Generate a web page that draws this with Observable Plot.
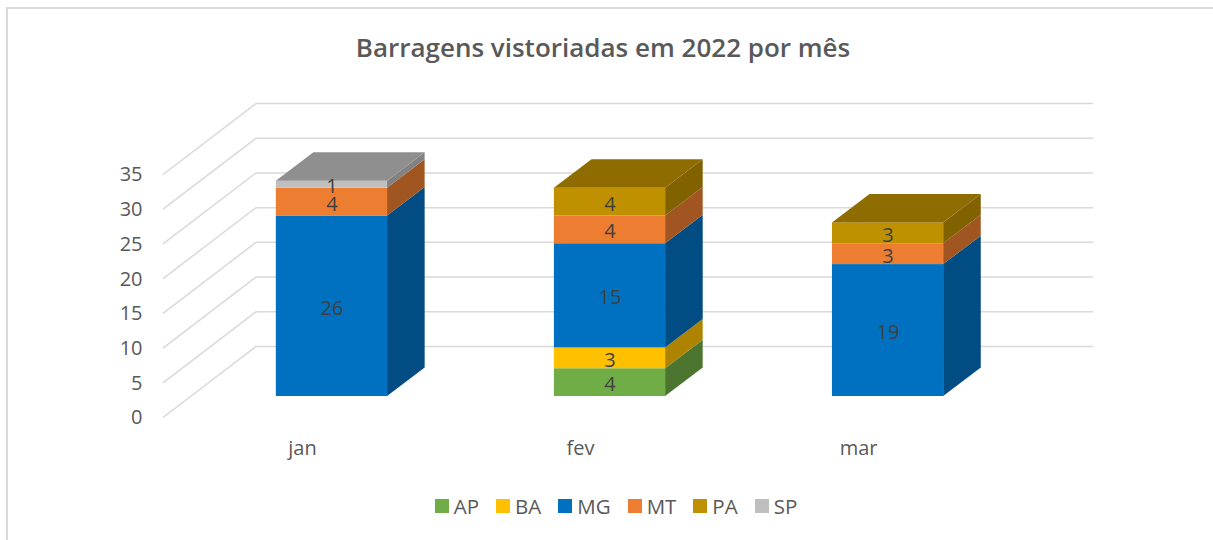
<!DOCTYPE html>
<html>
<head>
<meta charset="utf-8">
<script src="https://cdn.jsdelivr.net/npm/d3@7"></script>
<script src="https://cdn.jsdelivr.net/npm/@observablehq/plot@0.6"></script>
<style>
  html, body { margin: 0; padding: 0; background: #fff; }
  #wrap { position: relative; width: 1213px; height: 540px; overflow: hidden; font-family: "Open Sans", sans-serif; }
  #frame { position: absolute; left: 6px; top: 7px; width: 1300px; height: 700px; border: 2px solid #d9d9d9; box-sizing: border-box; }
  #title { position: absolute; left: 0; top: 27px; width: 1206px; text-align: center; font-size: 26px; font-weight: 600; color: #595959; line-height: 40px; }
  #legend { position: absolute; left: 0; top: 493px; width: 1232px; display: flex; justify-content: center; font-size: 20.5px; color: #595959; line-height: 26px; }
  .item { display: flex; align-items: center; margin: 0 8.5px; }
  .sw { width: 14px; height: 14px; margin-right: 5px; }
  #chart { position: absolute; left: 0; top: 0; }
</style>
</head>
<body>
<div id="wrap">
  <div id="frame"></div>
  <div id="chart"></div>
  <div id="title">Barragens vistoriadas em 2022 por mês</div>
  <div id="legend"></div>
</div>
<script>
// ---- data ----
const months = ["jan", "fev", "mar"];
const states = ["AP", "BA", "MG", "MT", "PA", "SP"];
const AP = [0, 4, 0];
const BA = [0, 3, 0];
const MG = [26, 15, 19];
const MT = [4, 4, 3];
const PA = [0, 4, 3];
const SP = [1, 0, 0];
const yTicks = [0, 5, 10, 15, 20, 25, 30, 35];
const colors = ["#70AD47", "#FFC000", "#0070C0", "#ED7D31", "#BF9000", "#BFBFBF"];

// ---- build stacked table ----
const series = {AP, BA, MG, MT, PA, SP};
const rows = [];
months.forEach((m, i) => {
  let acc = 0;
  states.forEach(s => {
    const v = series[s][i];
    if (v > 0) {
      rows.push({month: m, state: s, value: v, y1: acc, y2: acc + v, mid: acc + v / 2});
      acc += v;
    }
  });
});
const tops = months.map(m => {
  const r = rows.filter(d => d.month === m);
  return r[r.length - 1];
});
const colorOf = s => colors[states.indexOf(s)];
const shade = (c, k) => { const r = d3.rgb(c); return d3.rgb(r.r * k, r.g * k, r.b * k).formatHex(); };

// ---- 3D geometry (pixels) ----
const depth = [37.6, -28.4];      // bar depth
const frontOff = [-29.5, 21.5];   // from bar plane to front plane
const backOff = [63.5, -49.5];    // from bar plane to back wall
const wallLeft = 163, wallRight = 1093;

function walls(index, scales) {
  const g = d3.create("svg:g").attr("fill", "none").attr("stroke", "#d9d9d9").attr("stroke-width", 1.5);
  for (const t of yTicks) {
    const y = scales.y(t);
    g.append("path").attr("d",
      `M${wallLeft},${y + frontOff[1]}L${wallLeft + (backOff[0] - frontOff[0])},${y + backOff[1]}L${wallRight},${y + backOff[1]}`);
  }
  return g.node();
}

function sides(index, scales) {
  const x = scales.x;
  const bw = x.bandwidth ? x.bandwidth() : 111;
  const g = d3.create("svg:g");
  for (const d of rows) {
    const xr = x(d.month) + bw;
    const ya = scales.y(d.y1), yb = scales.y(d.y2);
    g.append("path")
      .attr("fill", shade(colorOf(d.state), 0.68))
      .attr("d", `M${xr},${ya}L${xr + depth[0]},${ya + depth[1]}L${xr + depth[0]},${yb + depth[1]}L${xr},${yb}Z`);
  }
  for (const d of tops) {
    const xl = x(d.month), xr = xl + bw;
    const yt = scales.y(d.y2);
    g.append("path")
      .attr("fill", shade(colorOf(d.state), 0.75))
      .attr("d", `M${xl},${yt}L${xr},${yt}L${xr + depth[0]},${yt + depth[1]}L${xl + depth[0]},${yt + depth[1]}Z`);
  }
  return g.node();
}

const chart = Plot.plot({
  width: 1213,
  height: 540,
  marginLeft: 109,
  marginRight: 103,
  marginTop: 153,
  marginBottom: 144,
  style: {background: "transparent", fontFamily: "Open Sans, sans-serif", overflow: "visible"},
  x: {domain: months, padding: 0.6, round: false, axis: null},
  y: {domain: [0, 35], axis: null},
  color: {domain: states, range: colors},
  marks: [
    walls,
    Plot.barY(rows, {x: "month", y1: "y1", y2: "y2", fill: "state"}),
    sides,
    Plot.text(rows, {x: "month", y: "mid", text: d => String(d.value), fill: "#404040", fontSize: 20, dy: 2}),
    Plot.text(yTicks, {y: d => d, text: d => String(d), frameAnchor: "left", dx: 33, dy: frontOff[1], textAnchor: "end", fill: "#595959", fontSize: 20}),
    Plot.text(months, {x: d => d, y: () => 0, text: d => d, dx: frontOff[0], dy: 52, fill: "#595959", fontSize: 20})
  ]
});
document.getElementById("chart").appendChild(chart);

// ---- legend ----
const leg = document.getElementById("legend");
states.forEach((s, i) => {
  const it = document.createElement("div");
  it.className = "item";
  const sw = document.createElement("div");
  sw.className = "sw";
  sw.style.background = colors[i];
  const tx = document.createElement("span");
  tx.textContent = s;
  it.appendChild(sw); it.appendChild(tx);
  leg.appendChild(it);
});
</script>
</body>
</html>
